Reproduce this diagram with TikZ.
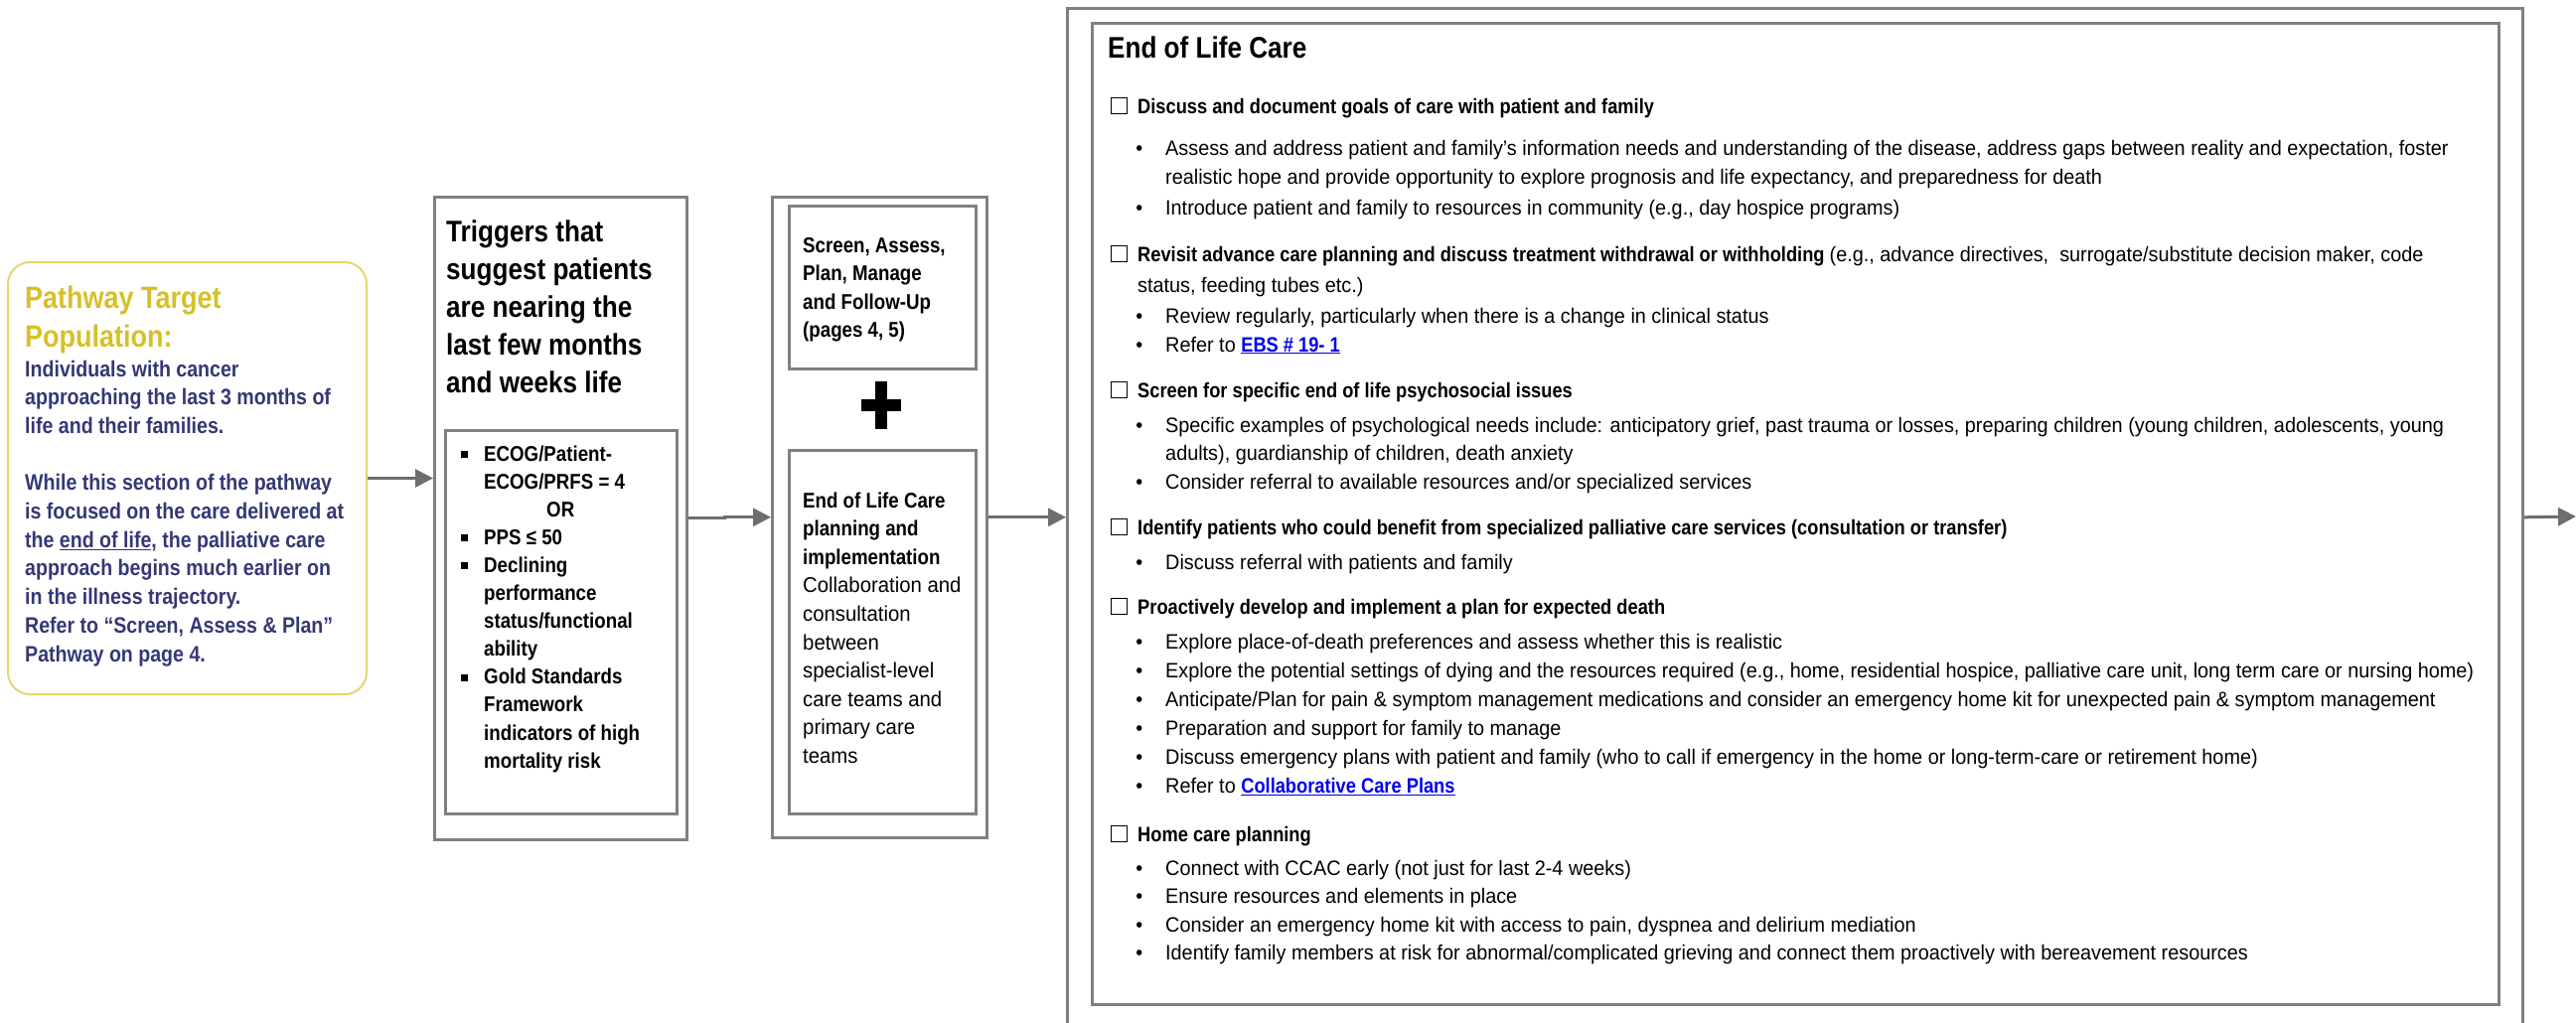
\documentclass[tikz,border=0pt]{standalone}
\usepackage{fontspec}
\setmainfont{Liberation Sans}[FakeStretch=0.945]
\newfontfamily\condfont{Liberation Sans}[FakeStretch=0.87]
\usetikzlibrary{arrows.meta,positioning}

\definecolor{boxgray}{RGB}{128,128,128}
\definecolor{arrowgray}{RGB}{110,110,112}
\definecolor{popyellow}{RGB}{228,214,112}
\definecolor{popgold}{RGB}{214,192,40}
\definecolor{popnavy}{RGB}{52,56,118}
\definecolor{linkblue}{RGB}{0,0,238}

\newcommand{\textrows}[1]{\begin{tabular}[t]{@{}l@{}}#1\end{tabular}}
\newcommand{\bcond}{\condfont\bfseries}
\newcommand{\chkbox}{{\setlength{\fboxsep}{0pt}\setlength{\fboxrule}{1.3pt}\fbox{\rule{0pt}{15pt}\hspace{15pt}}}}
\newcommand{\itm}{\llap{\textbullet\hspace{23pt}}}
\newcommand{\sqitm}{\llap{\raisebox{3pt}{\rule{7pt}{7pt}}\hspace{16pt}}}
\newcommand{\hd}{\llap{\chkbox\hspace{10pt}}}
\newcommand{\lnk}[1]{\textcolor{linkblue}{{\bcond\underline{#1}}}}

\tikzset{
  frame/.style={draw=boxgray, line width=2.6pt, inner sep=0pt, anchor=north west},
  flow/.style={draw=arrowgray, line width=3pt, -{Triangle[length=18pt,width=18pt]}},
  txt/.style={anchor=base west, inner sep=0pt},
  body/.style={txt, font=\fontsize{21}{28.4}\selectfont},
  head/.style={txt, font=\fontsize{21}{28.4}\selectfont\bcond},
}

\begin{document}
\begin{tikzpicture}[x=1pt,y=-1pt]
  \useasboundingbox (0,0) rectangle (2593,1030);

  % target population
  \node[draw=popyellow, line width=2pt, rounded corners=22pt, inner sep=0pt,
        minimum width=361pt, minimum height=435pt, anchor=north west] (target) at (7,263) {};
  \node[txt, font=\fontsize{31}{39}\selectfont\bcond, text=popgold] (targetTitle) at (25,310)
    {\textrows{Pathway Target\\Population:}};
  \node[txt, font=\fontsize{22.5}{28.7}\selectfont\bcond, text=popnavy] (targetText) at (25,379)
    {\textrows{Individuals with cancer\\approaching the last 3 months of\\life and their families.\\[28.7pt]
     While this section of the pathway\\is focused on the care delivered at\\
     the \underline{end of life}, the palliative care\\approach begins much earlier on\\
     in the illness trajectory.\\Refer to “Screen, Assess \& Plan”\\Pathway on page 4.}};

  % triggers
  \node[frame, minimum width=254pt, minimum height=647pt] (trig) at (436,197) {};
  \node[frame, minimum width=233pt, minimum height=386pt] (trigList) at (447,432) {};
  \node[txt, font=\fontsize{30}{38}\selectfont\bcond] (trigTitle) at (449,243)
    {\textrows{Triggers that\\suggest patients\\are nearing the\\last few months\\and weeks life}};
  \node[txt, font=\fontsize{21.5}{28.1}\selectfont\bcond] (trigItems) at (487,464)
    {\textrows{\sqitm ECOG/Patient-\\ECOG/PRFS = 4\\\hspace{63pt}OR\\\sqitm PPS ≤ 50\\\sqitm Declining\\
     performance\\status/functional\\ability\\\sqitm Gold Standards\\Framework\\
     indicators of high\\mortality risk}};

  % screen + plan
  \node[frame, minimum width=216pt, minimum height=645pt] (care) at (776,197) {};
  \node[frame, minimum width=188pt, minimum height=164pt] (careTop) at (793,206) {};
  \node[frame, minimum width=188pt, minimum height=366pt] (carePlan) at (793,452) {};
  \node[txt, font=\fontsize{21.5}{28.5}\selectfont\bcond] (careTopText) at (808,254)
    {\textrows{Screen, Assess,\\Plan, Manage\\and Follow-Up\\(pages 4, 5)}};
  \fill (881,384) rectangle (893,432);
  \fill (867,402) rectangle (907,414);
  \node[txt, font=\fontsize{21.5}{28.6}\selectfont] (carePlanText) at (808,511)
    {\textrows{{\bcond End of Life Care}\\{\bcond planning and}\\{\bcond implementation}\\Collaboration and\\
     consultation\\between\\specialist-level\\care teams and\\primary care\\teams}};

  % end of life care
  \node[frame, minimum width=1465pt, minimum height=1043pt] (eolc) at (1073,7) {};
  \node[frame, minimum width=1416pt, minimum height=988pt] (eolcList) at (1098,22) {};
  \node[txt, font=\fontsize{30}{36}\selectfont\bcond] (eolcTitle) at (1115,59) {End of Life Care};

  \node[head] (goalsHead) at (1145,114) {\hd Discuss and document goals of care with patient and family};
  \node[body] (goalsA) at (1173,157)
    {\textrows{\itm Assess and address patient and family’s information needs and understanding of the disease, address gaps between reality and expectation, foster\\
     realistic hope and provide opportunity to explore prognosis and life expectancy, and preparedness for death}};
  \node[body] (goalsB) at (1173,216) {\itm Introduce patient and family to resources in community (e.g., day hospice programs)};

  \node[head] (acpHead) at (1145,263)
    {\textrows{\hd Revisit advance care planning and discuss treatment withdrawal or withholding {\normalfont (e.g., advance directives,\ \ surrogate/substitute decision maker, code}\\[3pt]
     {\normalfont status, feeding tubes etc.)}}};
  \node[body] (acpA) at (1173,325) {\itm Review regularly, particularly when there is a change in clinical status};
  \node[body] (acpB) at (1173,354) {\itm Refer to \lnk{EBS \# 19- 1}};

  \node[head] (psyHead) at (1145,400) {\hd Screen for specific end of life psychosocial issues};
  \node[body] (psyA) at (1173,435)
    {\textrows{\itm Specific examples of psychological needs include: anticipatory grief, past trauma or losses, preparing children (young children, adolescents, young\\
     adults), guardianship of children, death anxiety}};
  \node[body] (psyB) at (1173,492) {\itm Consider referral to available resources and/or specialized services};

  \node[head] (palHead) at (1145,538) {\hd Identify patients who could benefit from specialized palliative care services (consultation or transfer)};
  \node[body] (palA) at (1173,573) {\itm Discuss referral with patients and family};

  \node[head] (deathHead) at (1145,618) {\hd Proactively develop and implement a plan for expected death};
  \node[body, font=\fontsize{21}{29.1}\selectfont] (deathList) at (1173,653)
    {\textrows{\itm Explore place-of-death preferences and assess whether this is realistic\\
     \itm Explore the potential settings of dying and the resources required (e.g., home, residential hospice, palliative care unit, long term care or nursing home)\\
     \itm Anticipate/Plan for pain \& symptom management medications and consider an emergency home kit for unexpected pain \& symptom management\\
     \itm Preparation and support for family to manage\\
     \itm Discuss emergency plans with patient and family (who to call if emergency in the home or long-term-care or retirement home)\\
     \itm Refer to \lnk{Collaborative Care Plans}}};

  \node[head] (homeHead) at (1145,847) {\hd Home care planning};
  \node[body, font=\fontsize{21}{28.6}\selectfont] (homeList) at (1173,881)
    {\textrows{\itm Connect with CCAC early (not just for last 2-4 weeks)\\
     \itm Ensure resources and elements in place\\
     \itm Consider an emergency home kit with access to pain, dyspnea and delirium mediation\\
     \itm Identify family members at risk for abnormal/complicated grieving and connect them proactively with bereavement resources}};

  % connectors
  \coordinate (nextStep) at (2593,520);
  \draw[flow] (target.east) -- (target.east -| trig.west);
  \draw[flow] (trig.east) -- ++(37,0) |- (care.west);
  \draw[flow] (care.east) -- (care.east -| eolc.west);
  \draw[flow] (care.east -| eolc.east) -- (nextStep);
\end{tikzpicture}
\end{document}
